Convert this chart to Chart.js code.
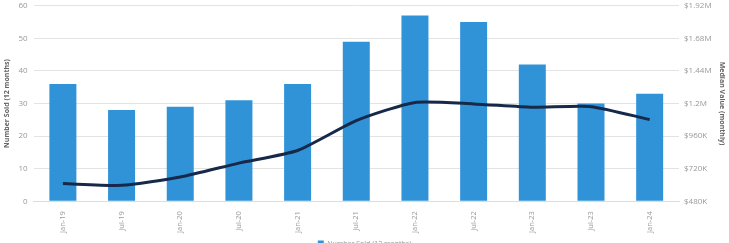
<!DOCTYPE html>
<html>
<head>
<meta charset="utf-8">
<script src="https://cdn.jsdelivr.net/npm/chart.js@4"></script>
<style>
  html, body { margin: 0; padding: 0; background: #fff; overflow: hidden; }
  .wrap { width: 729px; height: 262px; margin-top: -5px; position: relative; }
</style>
</head>
<body>
<div class="wrap"><canvas id="myChart"></canvas></div>
<script>
const labels = ["Jan-19", "Jul-19", "Jan-20", "Jul-20", "Jan-21", "Jul-21", "Jan-22", "Jul-22", "Jan-23", "Jul-23", "Jan-24"];
const numberSold = [36, 28, 29, 31, 36, 49, 57, 55, 42, 30, 33];
const medianValue = [610000, 597000, 658000, 761000, 854000, 1074000, 1208000, 1197000, 1172000, 1177000, 1082000];

const money = (v) =>
  v >= 1000000 ? "$" + (v / 1000000).toFixed(2).replace(/0$/, "") + "M" : "$" + v / 1000 + "K";

const tickFont = { family: "Open Sans", size: 8 };

const ctx = document.getElementById("myChart").getContext("2d");
const myChart = new Chart(ctx, {
  data: {
    labels: labels,
    datasets: [
      {
        type: "line",
        label: "Median Value (monthly)",
        data: medianValue,
        yAxisID: "y1",
        borderColor: "#16294a",
        borderWidth: 3,
        pointRadius: 0,
        tension: 0.2,
        fill: false,
        order: 0,
      },
      {
        type: "bar",
        label: "Number Sold (12 months)",
        data: numberSold,
        yAxisID: "y",
        backgroundColor: "#3193d7",
        categoryPercentage: 0.92,
        barPercentage: 0.5,
        order: 1,
      },
    ],
  },
  options: {
    responsive: true,
    maintainAspectRatio: false,
    animation: false,
    layout: { padding: { left: 2, right: 2, top: 0, bottom: 0 } },
    plugins: {
      legend: {
        position: "bottom",
        labels: {
          filter: (item) => item.datasetIndex === 1,
          boxWidth: 6,
          boxHeight: 6,
          font: { family: "Open Sans", size: 7 },
          color: "#999",
          padding: 5,
        },
      },
      tooltip: { enabled: false },
    },
    scales: {
      x: {
        grid: { display: false },
        border: { color: "#ddd" },
        ticks: {
          minRotation: 90,
          maxRotation: 90,
          font: { family: "Open Sans", size: 7.5 },
          color: "#999",
          padding: 2,
        },
      },
      y: {
        position: "left",
        min: 0,
        max: 60,
        ticks: { stepSize: 10, font: tickFont, color: "#999", padding: 6 },
        grid: { color: "#e3e3e3", drawTicks: false },
        border: { display: false },
        title: {
          display: true,
          text: "Number Sold (12 months)",
          font: { family: "Open Sans", size: 7, weight: "bold" },
          color: "#666",
          padding: 1,
        },
      },
      y1: {
        position: "right",
        min: 480000,
        max: 1920000,
        ticks: { stepSize: 240000, callback: money, font: tickFont, color: "#999", padding: 5 },
        grid: { drawOnChartArea: false, drawTicks: false },
        border: { display: false },
        title: {
          display: true,
          text: "Median Value (monthly)",
          font: { family: "Open Sans", size: 7, weight: "bold" },
          color: "#666",
          padding: 1,
        },
      },
    },
  },
});
</script>
</body>
</html>
